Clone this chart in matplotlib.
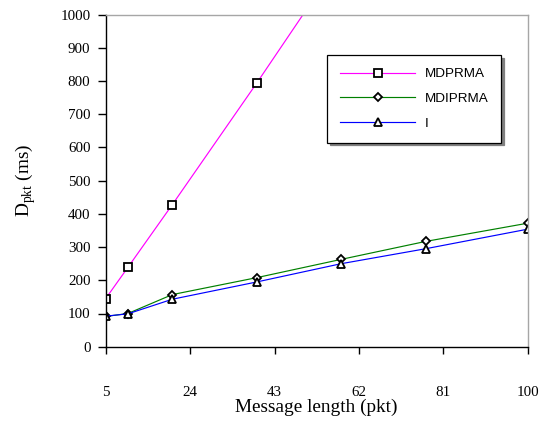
"""Packet delay vs message length for MDPRMA, MDIPRMA and I."""

import matplotlib
matplotlib.use("Agg")
import matplotlib.pyplot as plt

# values
msg_len = [5, 10, 20, 39, 58, 77, 100]
d_mdprma = [145, 239, 428, 794, 1170, 1550, 2000]
d_mdiprma = [91, 100, 157, 208, 263, 317, 372]
d_i = [92, 99, 143, 195, 250, 295, 354]

x_ticks = [5, 24, 43, 62, 81, 100]
y_ticks = list(range(0, 1001, 100))

plt.rcParams["mathtext.fontset"] = "custom"
plt.rcParams["mathtext.rm"] = "Liberation Serif"

SERIF = "Liberation Serif"
SANS = "Liberation Sans"


def main() -> None:
    fig = plt.figure(figsize=(5.42, 4.30), dpi=100)
    ax = fig.add_axes([105.7 / 542, 1 - 346.7 / 430, 422 / 542, 332 / 430])

    common = dict(lw=0.85, markersize=5.5, markerfacecolor="white",
                  markeredgecolor="black", markeredgewidth=1.3, clip_on=True)
    ax.plot(msg_len, d_mdprma, color="#ff00ff", marker="s", label="MDPRMA", **common)
    ax.plot(msg_len, d_mdiprma, color="#008000", marker="D", label="MDIPRMA",
            **{**common, "markersize": 4.5})
    ax.plot(msg_len, d_i, color="#0000ff", marker="^", label="I", **common)

    ax.set_xlim(5, 100)
    ax.set_ylim(0, 1000)
    ax.set_xticks(x_ticks)
    ax.set_yticks(y_ticks)

    ax.tick_params(axis="x", direction="out", length=5, width=1, pad=23, labelsize=10.8)
    ax.tick_params(axis="y", direction="out", length=6, width=1, pad=5, labelsize=10.8)
    for lab in ax.get_xticklabels() + ax.get_yticklabels():
        lab.set_fontfamily(SERIF)

    for side in ("left", "bottom"):
        ax.spines[side].set_color("black")
        ax.spines[side].set_linewidth(1.0)
    for side in ("top", "right"):
        ax.spines[side].set_color("#a6a6a6")
        ax.spines[side].set_linewidth(1.0)

    ax.set_xlabel("Message length (pkt)", fontsize=13.9, family=SERIF)
    ax.xaxis.set_label_coords(0.5, -0.158)
    ax.set_ylabel(r"D$_{\rm pkt}$ (ms)", fontsize=13.9, family=SERIF)
    ax.yaxis.set_label_coords(-0.16, 0.5)

    leg = fig.legend(loc="upper left", bbox_to_anchor=(327 / 542, 1 - 55 / 430),
                     bbox_transform=fig.transFigure, borderaxespad=0,
                     frameon=True, fancybox=False, edgecolor="black",
                     prop={"family": SANS, "size": 9.7}, handlelength=5.6,
                     handletextpad=0.7, labelspacing=0.92, borderpad=0.95,
                     shadow={"ox": 2, "oy": -2, "color": "#808080", "alpha": 1})
    leg.get_frame().set_linewidth(0.9)

    fig.savefig("out.png", dpi=100)
    plt.close(fig)


if __name__ == "__main__":
    main()
